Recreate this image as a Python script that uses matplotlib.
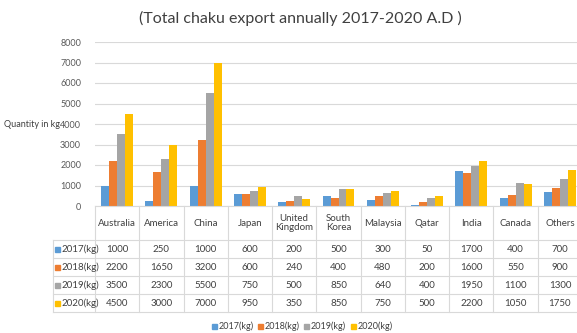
import matplotlib.pyplot as plt
import matplotlib.transforms as mtransforms
from matplotlib.patches import Rectangle
import numpy as np

plt.rcParams['font.family'] = ['Lato', 'DejaVu Sans']

countries = ["Australia", "America", "China", "Japan", "United\nKingdom", "South\nKorea",
             "Malaysia", "Qatar", "India", "Canada", "Others"]
years = ["2017(kg)", "2018(kg)", "2019(kg)", "2020(kg)"]
q2017 = [1000, 250, 1000, 600, 200, 500, 300, 50, 1700, 400, 700]
q2018 = [2200, 1650, 3200, 600, 240, 400, 480, 200, 1600, 550, 900]
q2019 = [3500, 2300, 5500, 750, 500, 850, 640, 400, 1950, 1100, 1300]
q2020 = [4500, 3000, 7000, 950, 350, 850, 750, 500, 2200, 1050, 1750]
series = [q2017, q2018, q2019, q2020]
colors = ["#5B9BD5", "#ED7D31", "#A5A5A5", "#FFC000"]

W, H = 577, 333
fig = plt.figure(figsize=(W / 100, H / 100), dpi=100)

def fy(py):
    # pixel row -> figure fraction
    return 1 - py / H

def fx(px):
    return px / W

ax = fig.add_axes([fx(95), fy(206), fx(487), 164 / H])
x = np.arange(len(countries))
bw = 0.18
for i, (vals, c) in enumerate(zip(series, colors)):
    ax.bar(x + (i - 1.5) * bw, vals, bw, color=c, label=years[i])

ax.set_xlim(-0.5, len(countries) - 0.5)
ax.set_ylim(0, 8000)
ax.set_yticks(range(0, 8001, 1000))
ax.tick_params(axis='y', length=0, labelsize=6.5, colors="#595959", pad=10)
ax.set_xticks([])
ax.grid(axis='y', color="#D9D9D9", lw=0.8)
ax.set_axisbelow(True)
for s in ax.spines.values():
    s.set_visible(False)

fig.text(fx(4), fy(124), "Quantity in kg", fontsize=6.5, color="#404040", va='center')
fig.text(fx(300), fy(18), "(Total chaku export annually 2017-2020 A.D )", fontsize=11.5,
         color="#404040", ha='center', va='center')

# data table under the plot
tr = mtransforms.blended_transform_factory(ax.transData, fig.transFigure)
line_kw = dict(color="#D9D9D9", lw=0.8, clip_on=False)
row_y = [206, 240, 258, 276, 294, 312]
ax.plot([-0.5, len(countries) - 0.5], [fy(206)] * 2, transform=tr, **line_kw)
for yy in row_y[1:]:
    fig.add_artist(plt.Line2D([fx(53), 1.02], [fy(yy)] * 2, transform=fig.transFigure, **line_kw))
for b in np.arange(-0.5, len(countries), 1.0):
    ax.plot([b, b], [fy(206), fy(312)], transform=tr, **line_kw)
fig.add_artist(plt.Line2D([fx(53), fx(53)], [fy(240), fy(312)], transform=fig.transFigure, **line_kw))

for j, name in enumerate(countries):
    ax.text(j, fy(223), name, transform=tr, ha='center', va='center', fontsize=7,
            color="#404040", linespacing=1.1)
for i, vals in enumerate(series):
    yc = fy((row_y[i + 1] + row_y[i + 2]) / 2)
    for j, v in enumerate(vals):
        ax.text(j, yc, str(v), transform=tr, ha='center', va='center', fontsize=7, color="#404040")
    fig.add_artist(Rectangle((fx(55), yc - 2.5 / H), 5 / W, 5 / H, color=colors[i],
                             transform=fig.transFigure))
    fig.text(fx(62), yc, years[i], fontsize=7, color="#404040", va='center')

# legend
lx = [212, 258, 304, 351]
for i in range(4):
    fig.add_artist(Rectangle((fx(lx[i]), fy(328.5)), 5 / W, 5 / H, color=colors[i],
                             transform=fig.transFigure))
    fig.text(fx(lx[i] + 6.5), fy(326), years[i], fontsize=6.5, color="#404040", va='center')

fig.savefig("out.png", dpi=100)
